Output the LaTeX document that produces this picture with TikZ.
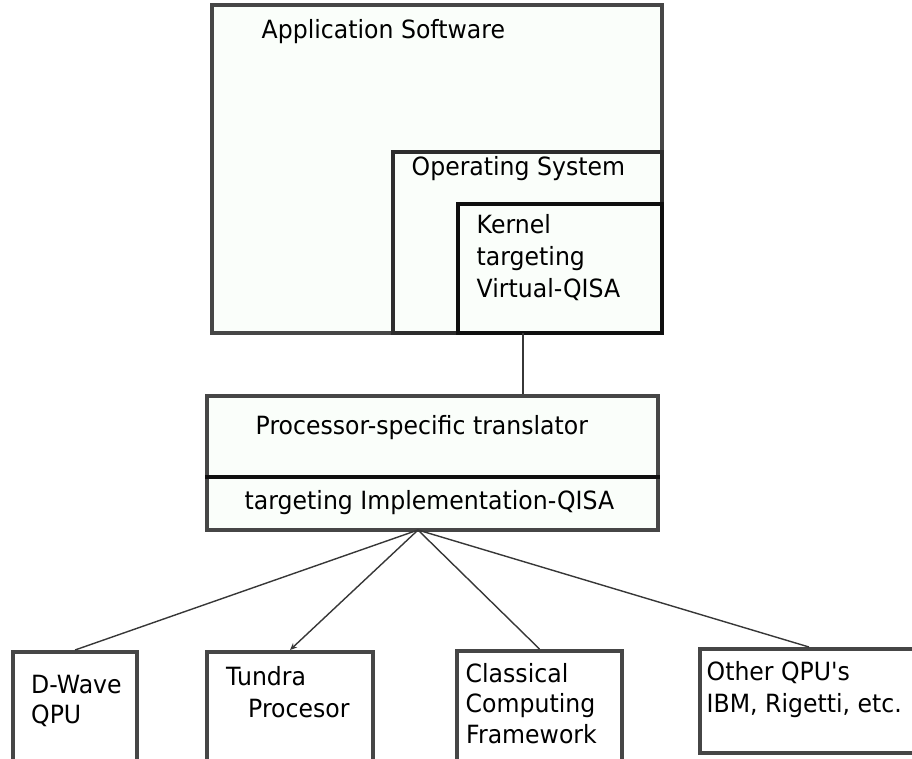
\documentclass[tikz,border=0pt]{standalone}
\usepackage{fontspec}
\newfontfamily\labelfont{DejaVu Sans}[FakeStretch=0.94]
\usetikzlibrary{arrows.meta}
\definecolor{boxfill}{RGB}{250,254,250}
\definecolor{edgegray}{RGB}{70,70,70}
\definecolor{edgedark}{RGB}{45,45,45}
\definecolor{edgeblack}{RGB}{15,15,15}
\definecolor{wiregray}{RGB}{55,55,55}

\tikzset{
  layerbox/.style={draw=edgegray, line width=4pt, fill=boxfill, inner sep=0pt,
    rectangle, anchor=center},
  label/.style={anchor=base west, inner sep=0pt,
    font=\labelfont\fontsize{25.1}{30}\selectfont, text=black},
  wire/.style={draw=wiregray, line width=1.4pt},
}

\begin{document}
\begin{tikzpicture}[x=1pt, y=-1pt]
  \useasboundingbox (0,0) rectangle (912,758);

  % software stack: application, operating system, kernel
  \node[layerbox, minimum width=450pt, minimum height=328pt] (app) at (437,169) {};
  \node[layerbox, draw=edgedark, minimum width=269pt, minimum height=181pt] (os) at (527.5,242.5) {};
  \node[layerbox, draw=edgeblack, minimum width=204pt, minimum height=129pt] (kern) at (560,268.5) {};

  \node[label] (tapp) at (261.5,38) {Application Software};
  \node[label] (tos) at (411.5,175) {Operating System};
  \node[label] (tk1) at (476.5,233) {Kernel};
  \node[label] (tk2) at (476.5,265) {targeting};
  \node[label] (tk3) at (476.5,297) {Virtual-QISA};

  % translator with its two-part label
  \node[layerbox, minimum width=451pt, minimum height=134pt] (trans) at (432.5,463) {};
  \coordinate (split) at (0,477);
  \draw[draw=edgeblack, line width=4pt] (trans.west |- split) -- (trans.east |- split);
  \node[label] (tt1) at (255.5,434) {Processor-specific translator};
  \node[label] (tt2) at (244.5,509) {targeting Implementation-QISA};

  % kernel to translator
  \coordinate (kout) at (523,333);
  \draw[wire] (kout) -- (kout |- trans.north);

  % back ends
  \node[layerbox, fill=white, minimum width=124pt, minimum height=113pt] (dwave) at (75,708.5) {};
  \node[layerbox, fill=white, minimum width=166pt, minimum height=113pt] (tundra) at (290,708.5) {};
  \node[layerbox, fill=white, minimum width=165pt, minimum height=114pt] (classic) at (539.5,708) {};
  \node[layerbox, fill=white, minimum width=218pt, minimum height=104pt] (other) at (809,701) {};

  \node[label] (td1) at (31,693) {D-Wave};
  \node[label] (td2) at (31,723) {QPU};
  \node[label] (tu1) at (226,685) {Tundra};
  \node[label] (tu2) at (248,717) {Procesor};
  \node[label] (tc1) at (465.5,682) {Classical};
  \node[label] (tc2) at (465.5,712) {Computing};
  \node[label] (tc3) at (466,743) {Framework};
  \node[label] (to1) at (706.5,680) {Other QPU's};
  \node[label] (to2) at (706.5,712) {IBM, Rigetti, etc.};

  % fan-out from the translator
  \coordinate (apex) at (418,530);
  \draw[wire] (apex) -- (dwave.north);
  \draw[wire, -{Stealth[length=7pt, width=6pt]}] (apex) -- (tundra.north);
  \draw[wire] (apex) -- (classic.north);
  \draw[wire] (apex) -- (other.north);
\end{tikzpicture}
\end{document}
